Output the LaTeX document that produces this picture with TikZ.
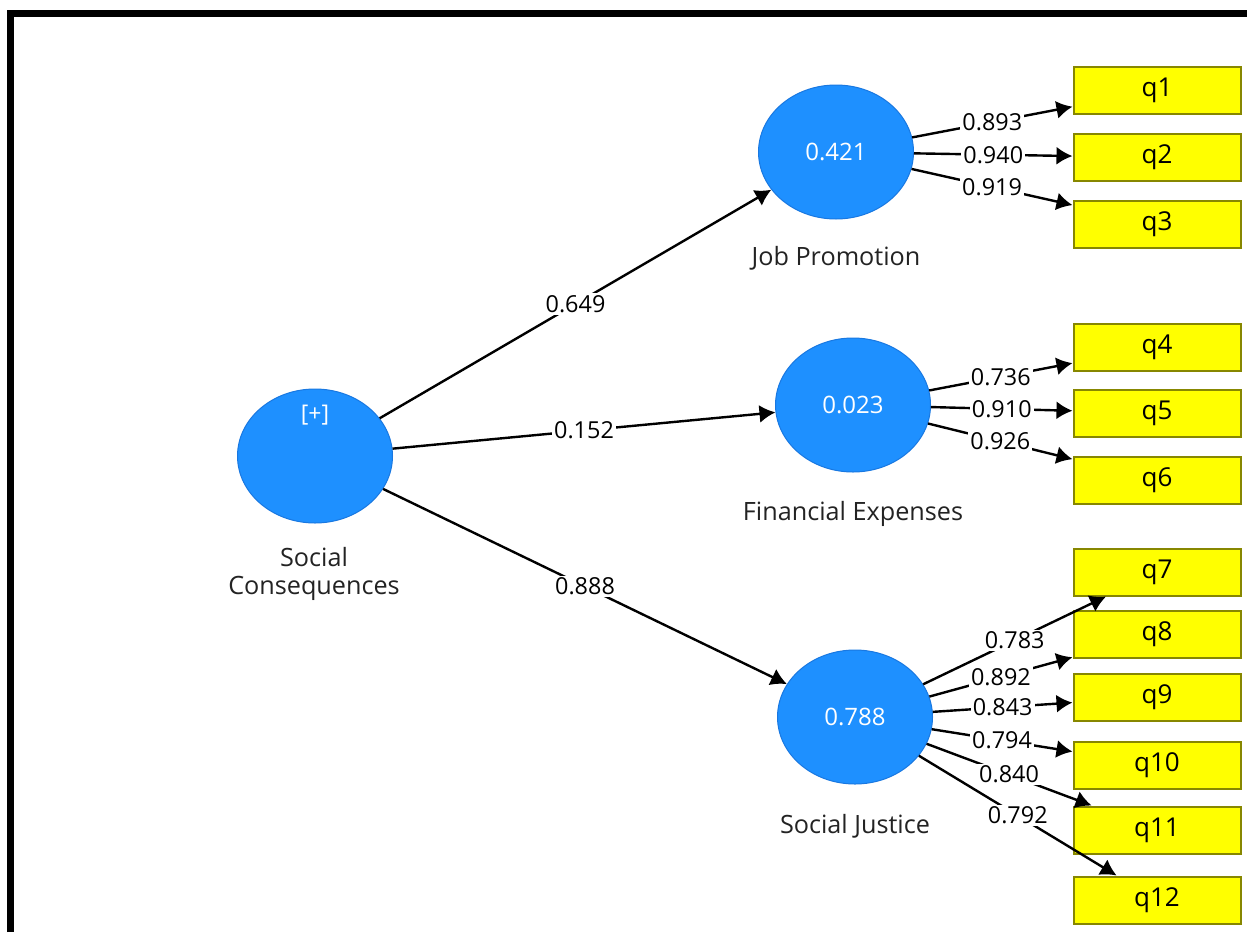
\documentclass[tikz,border=0pt]{standalone}
\usepackage{fontspec}
\setmainfont{Open Sans}
\usetikzlibrary{shapes.geometric,arrows.meta}
\definecolor{lvblue}{RGB}{30,144,255}
\definecolor{lvedge}{RGB}{25,120,225}
\definecolor{mvfill}{RGB}{255,255,0}
\definecolor{mvedge}{RGB}{135,135,0}
\definecolor{lbl}{RGB}{35,35,35}
\begin{document}
\begin{tikzpicture}[x=0.5pt,y=-0.5pt,
  lv/.style={ellipse, fill=lvblue, draw=lvedge, line width=0.5pt, minimum width=77.5pt, minimum height=67pt, inner sep=0pt, text=white, font=\fontsize{12}{14}\selectfont},
  mv/.style={rectangle, fill=mvfill, draw=mvedge, line width=1pt, minimum width=83.5pt, minimum height=23.5pt, inner sep=0pt, text=black, font=\fontsize{13}{15}\selectfont},
  lvname/.style={text=lbl, align=center, font=\fontsize{12.6}{14}\selectfont},
  conn/.style={draw=black, line width=1.2pt, -{Latex[length=8pt,width=9pt]}},
  coef/.style={fill=white, inner sep=1pt, text=black, font=\fontsize{11.7}{13}\selectfont}
]
\useasboundingbox (0,0) rectangle (1247,932);
\fill[white] (0,0) rectangle (1247,932);
\draw[line width=3.5pt, line join=miter] (10.5,932) -- (10.5,13) -- (1247,13);

% latent variables
\node[lv] (sc) at (315,456) {};
\node[text=white, font=\fontsize{11.5}{13}\selectfont] (plus) at (315,415) {[+]};
\node[lv] (jp) at (836,152) {0.421};
\node[lv] (fe) at (853,405) {0.023};
\node[lv] (sj) at (855,717) {0.788};

% names
\node[lvname] (scn) at (314,574) {Social\\Consequences};
\node[lvname] (jpn) at (836,258) {Job Promotion};
\node[lvname] (fen) at (853,514) {Financial Expenses};
\node[lvname] (sjn) at (855,826) {Social Justice};

% indicators
\node[mv] (q1) at (1157,90.5) {q1};
\node[mv] (q2) at (1157,157.5) {q2};
\node[mv] (q3) at (1157,224) {q3};
\node[mv] (q4) at (1157,347) {q4};
\node[mv] (q5) at (1157,413) {q5};
\node[mv] (q6) at (1157,480) {q6};
\node[mv] (q7) at (1157,572) {q7};
\node[mv] (q8) at (1157,634) {q8};
\node[mv] (q9) at (1157,697) {q9};
\node[mv] (q10) at (1157,765) {q10};
\node[mv] (q11) at (1157,830) {q11};
\node[mv] (q12) at (1157,900) {q12};

% structural paths
\draw[conn] (sc) -- node[coef] {0.649} (jp);
\draw[conn] (sc) -- node[coef] {0.152} (fe);
\draw[conn] (sc) -- node[coef] {0.888} (sj);

% loadings
\draw[conn] (jp) -- node[coef] {0.893} (q1);
\draw[conn] (jp) -- node[coef] {0.940} (q2);
\draw[conn] (jp) -- node[coef] {0.919} (q3);
\draw[conn] (fe) -- node[coef] {0.736} (q4);
\draw[conn] (fe) -- node[coef] {0.910} (q5);
\draw[conn] (fe) -- node[coef] {0.926} (q6);
\draw[conn] (sj) -- node[coef] {0.783} (q7);
\draw[conn] (sj) -- node[coef] {0.892} (q8);
\draw[conn] (sj) -- node[coef] {0.843} (q9);
\draw[conn] (sj) -- node[coef] {0.794} (q10);
\draw[conn] (sj) -- node[coef] {0.840} (q11);
\draw[conn] (sj) -- node[coef] {0.792} (q12);
\end{tikzpicture}
\end{document}
